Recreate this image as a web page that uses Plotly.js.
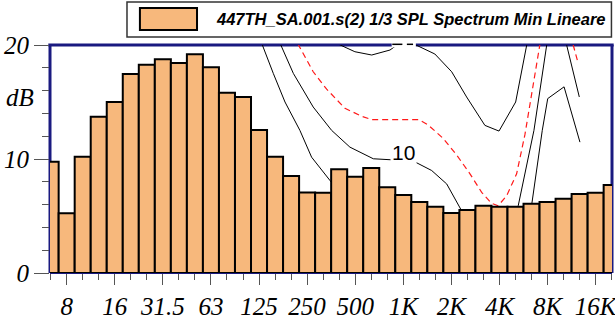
<!DOCTYPE html>
<html>
<head>
<meta charset="utf-8">
<script src="https://cdn.plot.ly/plotly-3.0.1.min.js"></script>
<style>html,body{margin:0;padding:0;background:#fff;}#chart{width:615px;height:322px;}</style>
</head>
<body>
<div id="chart"></div>
<script>
// 1/3 octave bands (x positions are band indices)
const bands = ['6.3','8','10','12.5','16','20','25','31.5','40','50','63','80','100','125','160','200','250','315','400','500','630','800','1K','1.25K','1.6K','2K','2.5K','3.15K','4K','5K','6.3K','8K','10K','12.5K','16K','20K'];
// SPL values, dB
const splValues = [9.76,5.24,10.20,13.71,15.0,17.46,18.27,18.75,18.42,19.18,18.04,15.82,15.44,12.54,10.20,8.51,7.06,7.04,9.10,8.45,9.21,7.52,6.84,6.23,5.82,5.26,5.53,5.90,5.82,5.82,6.08,6.23,6.52,6.93,7.04,7.72];
// labelled ticks
const tickLabels = ['8','16','31.5','63','125','250','500','1K','2K','4K','8K','16K'];

// reference curves (x in band index units, y in dB)
const curveA_x = [12.93,13.20,13.89,14.62,15.55,16.28,17.43,18.05];
const curveA_y = [20.88,20.03,17.51,15.0,12.51,10.16,8.11,7.05];
const curve10_x = [14.12,14.35,15.14,16.38,17.53,18.67,20.13,21.27,22.83,23.77,24.71,25.64,26.16];
const curve10_y = [20.88,20.03,17.51,14.56,12.51,11.04,10.02,9.93,9.67,8.99,7.81,5.52,4.14];
const redA_x = [15.12,15.45,16.38,17.22,18.36,19.42,20.05,22.98,23.54,24.49,25.35,26.16,26.89,27.51,27.92,28.45,29.07,29.59,30.11,30.53,30.62];
const redA_y = [20.88,20.0,17.65,16.12,14.45,13.74,13.45,13.45,13.0,11.81,10.31,8.70,7.07,6.11,5.90,6.78,8.70,12.16,16.48,20.0,20.88];
const curve20_x = [17.11,18.05,18.98,20.03,21.17,22.04,22.79,23.97,25.02,25.95,27.09,27.97,29.01,29.70,29.81];
const curve20_y = [20.62,20.03,19.41,19.12,19.56,20.44,20.0,19.21,17.65,15.44,12.95,12.45,15.0,20.0,20.88];
const lineB_x = [29.03,29.17,30.15,30.94,31.04];
const lineB_y = [5.02,5.90,12.51,20.0,20.88];
const lineC_x = [29.90,30.01,30.67,31.01,32.03,33.02];
const lineC_y = [5.02,5.99,12.51,15.30,16.33,11.48];
const lineD_x = [32.05,32.19,32.98];
const lineD_y = [20.88,20.0,15.44];
const redB_x = [32.46,32.60,32.91];
const redB_y = [20.88,20.0,18.39];

const xIdx = bands.map((b,i)=>i);
const tickIdx = tickLabels.map(t=>bands.indexOf(t));

const XR = [-0.04, 35.02];
const YR = [0, 20];
const NAVY = '#1a1a80';
const serif = {family:'Liberation Serif, Times New Roman, serif', size:25, color:'#000', style:'italic'};

function blk(x,y){return {type:'scatter',mode:'lines',x:x,y:y,xaxis:'x',yaxis:'y',line:{color:'#000',width:1},hoverinfo:'skip',showlegend:false};}
function red(x,y){return {type:'scatter',mode:'lines',x:x,y:y,xaxis:'x',yaxis:'y',line:{color:'#ff1a1a',width:1.2,dash:'6px,4px'},hoverinfo:'skip',showlegend:false};}

const data = [
  blk(curveA_x,curveA_y),
  blk(curve10_x,curve10_y),
  red(redA_x,redA_y),
  blk(curve20_x,curve20_y),
  blk(lineB_x,lineB_y),
  blk(lineC_x,lineC_y),
  blk(lineD_x,lineD_y),
  red(redB_x,redB_y),
  {type:'bar',x:xIdx,y:splValues,xaxis:'x2',yaxis:'y2',width:1,
   marker:{color:'#F7B87C',line:{color:'#000',width:2}},
   name:'447TH_SA.001.s(2) 1/3 SPL Spectrum Min Lineare',showlegend:false,hoverinfo:'skip'}
];

const layout = {
  width:615,height:322,
  margin:{l:50,r:3,t:45,b:49,pad:0},
  paper_bgcolor:'#fff',plot_bgcolor:'rgba(0,0,0,0)',
  showlegend:false,bargap:0,
  xaxis:{range:XR,showgrid:false,zeroline:false,showline:true,linecolor:NAVY,linewidth:1,
    tickmode:'array',tickvals:tickIdx,ticktext:tickLabels,ticks:'outside',ticklen:11,tickwidth:1,tickcolor:'#555',
    tickfont:serif,layer:'below traces',ticklabeloverflow:'allow',ticklabelstandoff:0,
    minor:{ticks:'outside',tick0:0,dtick:1,ticklen:6,tickwidth:1,tickcolor:'#555',showgrid:false}},
  yaxis:{range:YR,showgrid:false,zeroline:false,showline:false,
    tickmode:'array',tickvals:[0,10,20],ticks:'outside',ticklen:15,tickwidth:1,tickcolor:'#555',
    tickfont:serif,layer:'below traces',ticklabeloverflow:'allow',ticklabelstandoff:0,
    minor:{ticks:'outside',tick0:0,dtick:2,ticklen:7,tickwidth:1,tickcolor:'#555',showgrid:false}},
  xaxis2:{range:XR,overlaying:'x',visible:false},
  yaxis2:{range:YR,overlaying:'y',visible:false},
  shapes:[
    {type:'line',xref:'paper',yref:'paper',x0:0,x1:0,y0:0,y1:1,line:{color:NAVY,width:3},layer:'below'},
    {type:'line',xref:'paper',yref:'paper',x0:1,x1:1,y0:0,y1:1,line:{color:NAVY,width:3},layer:'below'},
    {type:'line',xref:'paper',yref:'paper',x0:-0.003,x1:1.003,y0:1,y1:1,line:{color:NAVY,width:3},layer:'below'},
    // clipped "20" label gap at the top border
    {type:'rect',xref:'paper',yref:'paper',x0:0.608,x1:0.651,y0:0.989,y1:1.0175,fillcolor:'#fff',line:{width:0},layer:'above'},
    {type:'line',xref:'paper',yref:'paper',x0:0.609,x1:0.627,y0:1.003,y1:1.003,line:{color:'#000',width:1.5},layer:'above'},
    {type:'line',xref:'paper',yref:'paper',x0:0.635,x1:0.646,y0:1.003,y1:1.003,line:{color:'#000',width:1.5},layer:'above'},
    // legend box
    {type:'rect',xref:'paper',yref:'paper',x0:0.137,x1:0.999,y0:1.035,y1:1.189,fillcolor:'#fff',line:{color:'#333',width:1.5}},
    {type:'rect',xref:'paper',yref:'paper',x0:0.160,x1:0.2616,y0:1.066,y1:1.162,fillcolor:'#F7B87C',line:{color:'#000',width:2}}
  ],
  annotations:[
    {xref:'paper',yref:'paper',x:0.291,y:1.114,xanchor:'left',yanchor:'middle',showarrow:false,
     text:'447TH_SA.001.s(2) 1/3 SPL Spectrum Min Lineare',
     font:{family:'Liberation Sans, Arial, sans-serif',size:16.5,color:'#000',weight:'bold',style:'italic'}},
    {xref:'paper',yref:'paper',x:-0.053,y:0.77,xanchor:'center',yanchor:'middle',showarrow:false,
     text:'dB',font:serif},
    {xref:'x',yref:'y',x:22.04,y:10.6,xanchor:'center',yanchor:'middle',showarrow:false,
     text:'10',bgcolor:'#fff',borderpad:1,
     font:{family:'Liberation Sans, Arial, sans-serif',size:21,color:'#000'}}
  ]
};

Plotly.newPlot('chart',data,layout,{staticPlot:true,displayModeBar:false});
</script>
</body>
</html>
